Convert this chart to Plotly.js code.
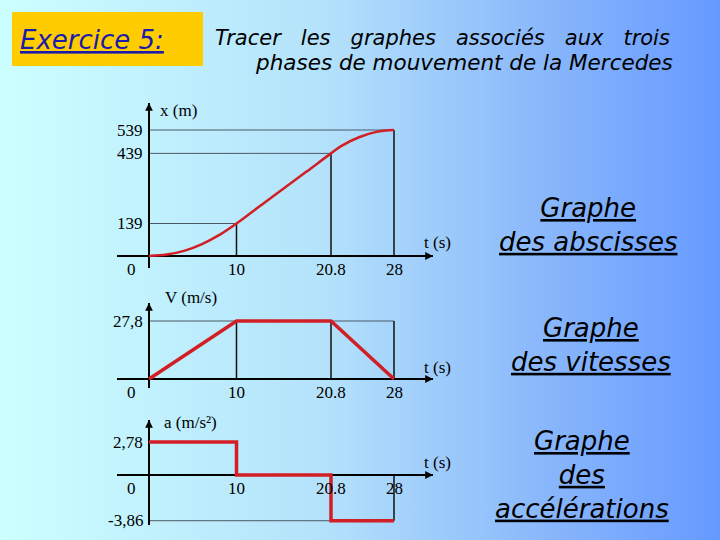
<!DOCTYPE html>
<html>
<head>
<meta charset="utf-8">
<script src="https://cdn.plot.ly/plotly-3.0.1.min.js"></script>
<style>
  html, body { margin: 0; padding: 0; }
  body { width: 720px; height: 540px; overflow: hidden;
         background: linear-gradient(to right, #ccffff 0%, #b4e2fb 45%, #8ab8fb 75%, #6699ff 100%); }
  #chart { width: 720px; height: 540px; }
</style>
</head>
<body>
<div id="chart"></div>
<script>
// ---- data ----
const tTicks = [0, 10, 20.8, 28];
const tTickLabels = ['0', '10', '20.8', '28'];

// position x(t)
const posTimes  = [0, 2, 4, 6, 8, 10, 12, 14, 16, 18, 20.8, 22, 24, 26, 28];
const posValues = [0, 6, 22, 50, 89, 139, 195, 250, 306, 361, 439, 471, 508, 531, 539];
const posTickVals = [139, 439, 539];
const posTickLabels = ['139', '439', '539'];

// velocity v(t)
const velTimes  = [0, 10, 20.8, 28];
const velValues = [0, 27.8, 27.8, 0];
const velTickVals = [27.8];
const velTickLabels = ['27,8'];

// acceleration a(t) (step)
const accTimes  = [0, 10, 20.8, 28];
const accValues = [2.78, 0, -3.86, -3.86];
const accTickVals = [2.78, -3.86];
const accTickLabels = ['2,78', '-3,86'];

// ---- layout helpers ----
const W = 720, H = 540;
const serif = {family: 'Liberation Serif, Times New Roman, serif', size: 17, color: '#000'};
const comic = 'DejaVu Sans, Noto Sans, sans-serif';
const RED = '#d21f26';

function yDom(top, bottom) { return [1 - bottom / H, 1 - top / H]; }

const xCommon = {
  domain: [117 / W, 433 / W], range: [-3.657, 32.457],
  showgrid: false, showticklabels: false, ticks: '', showline: false,
  zeroline: true, zerolinecolor: '#000', zerolinewidth: 1.3, fixedrange: true
};
const yCommon = {
  showgrid: false, showticklabels: false, ticks: '', showline: false,
  zeroline: true, zerolinecolor: '#000', zerolinewidth: 1.3, fixedrange: true
};

const layout = {
  width: W, height: H,
  margin: {l: 0, r: 0, t: 0, b: 0},
  paper_bgcolor: 'rgba(0,0,0,0)', plot_bgcolor: 'rgba(0,0,0,0)',
  showlegend: false,
  xaxis:  Object.assign({}, xCommon, {anchor: 'y'}),
  xaxis2: Object.assign({}, xCommon, {anchor: 'y2'}),
  xaxis3: Object.assign({}, xCommon, {anchor: 'y3'}),
  yaxis:  Object.assign({}, yCommon, {anchor: 'x',  domain: yDom(103, 268), range: [-51.3, 654.5]}),
  yaxis2: Object.assign({}, yCommon, {anchor: 'x2', domain: yDom(303, 388), range: [-4.31, 36.43]}),
  yaxis3: Object.assign({}, yCommon, {anchor: 'x3', domain: yDom(420, 525), range: [-4.22, 4.64]}),
  shapes: [], annotations: []
};

// yellow title box
layout.shapes.push({type: 'rect', xref: 'paper', yref: 'paper',
  x0: 12 / W, x1: 203 / W, y0: 1 - 66 / H, y1: 1 - 12 / H,
  fillcolor: '#ffcc00', line: {width: 0}, layer: 'below'});

const HLINE = {color: '#4a5866', width: 1};
const VLINE = {color: '#111', width: 1.5};
function seg(ax, x0, y0, x1, y1, line) {
  layout.shapes.push({type: 'line', xref: 'x' + ax, yref: 'y' + ax,
    x0: x0, y0: y0, x1: x1, y1: y1, line: line, layer: 'below'});
}

// chart 1 reference lines
for (let i = 0; i < posTickVals.length; i++) {
  const t = tTicks[i + 1];
  seg('', 0, posTickVals[i], t, posTickVals[i], HLINE);
  seg('', t, 0, t, posTickVals[i], VLINE);
}
// chart 2 reference lines
seg('2', 0, velTickVals[0], tTicks[3], velTickVals[0], HLINE);
for (let i = 1; i < tTicks.length; i++) seg('2', tTicks[i], 0, tTicks[i], velTickVals[0], VLINE);
// chart 3 reference lines
seg('3', 0, accTickVals[1], tTicks[2], accTickVals[1], HLINE);
seg('3', tTicks[3], accTickVals[1], tTicks[3], 0, VLINE);

// arrows + labels per chart
const charts = [
  {ax: '',  yv: posTickVals, yl: posTickLabels, ytitle: 'x (m)',     yt: [158, 110], tt: [422, 243]},
  {ax: '2', yv: velTickVals, yl: velTickLabels, ytitle: 'V (m/s)',   yt: [163, 297], tt: [422, 367]},
  {ax: '3', yv: accTickVals, yl: accTickLabels, ytitle: 'a (m/s²)',  yt: [162, 422], tt: [422, 462]}
];
charts.forEach(c => {
  const xr = 'x' + c.ax, yr = 'y' + c.ax;
  layout.annotations.push({xref: xr + ' domain', yref: yr, x: 1, y: 0, text: '',
    showarrow: true, ax: -14, ay: 0, arrowhead: 2, arrowsize: 1.2, arrowwidth: 1.3, arrowcolor: '#000'});
  layout.annotations.push({xref: xr, yref: yr + ' domain', x: 0, y: 1, text: '',
    showarrow: true, ax: 0, ay: 14, arrowhead: 2, arrowsize: 1.2, arrowwidth: 1.3, arrowcolor: '#000'});
  c.yv.forEach((v, i) => layout.annotations.push({xref: xr, yref: yr, x: 0, y: v, text: c.yl[i],
    showarrow: false, xanchor: 'right', yanchor: 'middle', xshift: -4, font: serif}));
  tTicks.forEach((t, i) => layout.annotations.push({xref: xr, yref: yr, x: t, y: 0, text: tTickLabels[i],
    showarrow: false, xanchor: 'center', yanchor: 'top', yshift: -2, xshift: (t === 0 ? -18 : 0), font: serif}));
  layout.annotations.push({xref: 'paper', yref: 'paper', x: c.yt[0] / W, y: 1 - c.yt[1] / H, text: c.ytitle,
    showarrow: false, xanchor: 'left', yanchor: 'middle', font: serif});
  layout.annotations.push({xref: 'paper', yref: 'paper', x: c.tt[0] / W, y: 1 - c.tt[1] / H, text: 't (s)',
    showarrow: false, xanchor: 'left', yanchor: 'middle', font: serif});
});

// header texts
const sp = '\u00a0\u00a0\u00a0';
layout.annotations.push({xref: 'paper', yref: 'paper', x: 18 / W, y: 1 - 40 / H,
  text: '<i><u>Exercice 5:</u></i>', showarrow: false, xanchor: 'left', yanchor: 'middle',
  font: {family: comic, size: 26, color: '#1c1cab'}});
layout.annotations.push({xref: 'paper', yref: 'paper', x: 213 / W, y: 1 - 38 / H,
  text: '<i>Tracer' + sp + 'les' + sp + 'graphes' + sp + 'associés' + sp + 'aux' + sp + 'trois</i>',
  showarrow: false, xanchor: 'left', yanchor: 'middle', font: {family: comic, size: 21, color: '#000'}});
layout.annotations.push({xref: 'paper', yref: 'paper', x: 675 / W, y: 1 - 62 / H,
  text: '<i>phases de mouvement de la Mercedes</i>',
  showarrow: false, xanchor: 'right', yanchor: 'middle', font: {family: comic, size: 21.5, color: '#000'}});

// right-side captions
const captions = [
  {text: '<i><u>Graphe</u></i><br><i><u>des abscisses</u></i>', x: 588, y: 225},
  {text: '<i><u>Graphe</u></i><br><i><u>des vitesses</u></i>', x: 591, y: 345},
  {text: '<i><u>Graphe</u></i><br><i><u>des</u></i><br><i><u>accélérations</u></i>', x: 582, y: 475}
];
captions.forEach(c => layout.annotations.push({xref: 'paper', yref: 'paper', x: c.x / W, y: 1 - c.y / H,
  text: c.text, showarrow: false, xanchor: 'center', yanchor: 'middle', align: 'center',
  font: {family: comic, size: 26, color: '#000'}}));

const data = [
  {x: posTimes, y: posValues, xaxis: 'x', yaxis: 'y', type: 'scatter', mode: 'lines',
   line: {color: RED, width: 2.5, shape: 'spline', smoothing: 1}, hoverinfo: 'skip'},
  {x: velTimes, y: velValues, xaxis: 'x2', yaxis: 'y2', type: 'scatter', mode: 'lines',
   line: {color: RED, width: 3.5}, hoverinfo: 'skip'},
  {x: accTimes, y: accValues, xaxis: 'x3', yaxis: 'y3', type: 'scatter', mode: 'lines',
   line: {color: RED, width: 3.5, shape: 'hv'}, hoverinfo: 'skip'}
];

Plotly.newPlot('chart', data, layout, {staticPlot: true, displayModeBar: false});
</script>
</body>
</html>
